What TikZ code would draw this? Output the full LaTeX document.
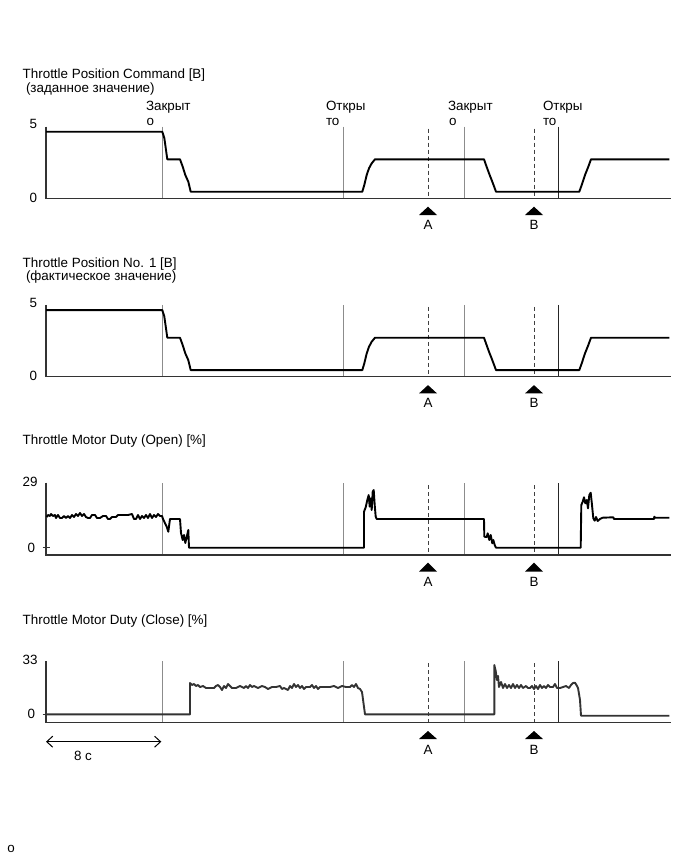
\documentclass[tikz,border=0pt]{standalone}
\usepackage{fontspec}
\setmainfont{Liberation Sans}
\usetikzlibrary{arrows.meta}
\begin{document}
\begin{tikzpicture}[x=1pt,y=-1pt,
  lbl/.style={anchor=base west,inner sep=0pt,outer sep=0pt,font=\fontsize{13.4}{15}\selectfont},
  clbl/.style={anchor=base,inner sep=0pt,outer sep=0pt,font=\fontsize{13.4}{15}\selectfont},
  sig/.style={line width=1.9pt,line join=round,black},
  sigg/.style={line width=1.9pt,line join=round,black!80},
  axisline/.style={line width=1.2pt,black!80},
  vgray/.style={line width=1pt,black!45},
  vdark/.style={line width=1pt,black!85},
  vdash/.style={line width=0.8pt,black!75,dash pattern=on 4pt off 3pt},
  tri/.style={fill=black,draw=none}]
\useasboundingbox[fill=white] (0,0) rectangle (687,859);

% ---------- Panel 1 ----------
\node[lbl] (t1) at (22.7,78) {Throttle Position Command [B]};
\node[lbl] (t1b) at (26,92.7) {(заданное значение)};
\node[lbl] (c1a) at (146,110.5) {Закрыт};
\node[lbl] (c1b) at (146.5,125.5) {о};
\node[lbl] (o1a) at (326,110.5) {Откры};
\node[lbl] (o1b) at (326,125.5) {то};
\node[lbl] (c2a) at (448,110.5) {Закрыт};
\node[lbl] (c2b) at (449,125.5) {о};
\node[lbl] (o2a) at (543,110.5) {Откры};
\node[lbl] (o2b) at (543,125.5) {то};
\node[lbl] (y15) at (29.5,128) {5};
\node[lbl] (y10) at (29.5,202) {0};

\foreach \dy/\top in {0/126.7,178.4/304.9}{
  \begin{scope}[yshift=-\dy pt]
  \draw[vgray] (162.3,\top-\dy) -- (162.3,198.3);
  \draw[vgray] (343,\top-\dy) -- (343,198.3);
  \draw[vgray] (464.3,\top-\dy) -- (464.3,198.3);
  \draw[vdark] (558.3,\top-\dy) -- (558.3,198.3);
  \draw[vdash] (428,\top-\dy+2) -- (428,198.3);
  \draw[vdash] (534,\top-\dy+2) -- (534,198.3);
  \draw[axisline] (46,\top-\dy) -- (46,198.3) -- (671,198.3);
  \draw[sig] (46,131.7) -- (162.3,131.7) -- (164.3,138) -- (166,150) -- (167.3,159.3) -- (180,159.3) -- (182.7,166.7) -- (185.3,175) -- (188.3,181.7) -- (190.7,191.7) -- (362.3,191.7) -- (364.3,185) -- (366.7,175) -- (369,168.3) -- (371.7,163.3) -- (375,159.3) -- (484,159.3) -- (486,165) -- (489,173.3) -- (492.3,181.7) -- (496,191.7) -- (579.3,191.7) -- (581.7,185) -- (585,175) -- (588.3,166.7) -- (591,159.3) -- (669.3,159.3);
  \end{scope}
}

% ---------- Panel 2 labels ----------
\node[lbl] (t2) at (22.7,267.7) {Throttle Position No. 1 [B]};
\node[lbl] (t2b) at (26,280.5) {(фактическое значение)};
\node[lbl] (y25) at (29.5,307.5) {5};
\node[lbl] (y20) at (29.5,380.5) {0};

% ---------- Panel 3 ----------
\node[lbl] (t3) at (22.7,444) {Throttle Motor Duty (Open) [\%]};
\node[lbl] (y329) at (22.7,486) {29};
\node[lbl] (y30) at (27.5,552) {0};
\draw[vgray] (162.3,483) -- (162.3,555);
\draw[vgray] (343,483) -- (343,555);
\draw[vgray] (464.3,483) -- (464.3,555);
\draw[vdark] (558.3,483) -- (558.3,555);
\draw[vdash] (428,485) -- (428,555);
\draw[vdash] (534,485) -- (534,555);
\draw[axisline] (46,482.7) -- (46,555) -- (671,555);
\draw[axisline] (42.7,547.7) -- (50,547.7);
\draw[sig] (46.7,517) -- (48,515) -- (50,516) -- (51,514) -- (53,516) -- (55,515) -- (56,518) -- (58,515) -- (60,518) -- (62,518) -- (64,516) -- (66,518) -- (68,516) -- (70,518) -- (72,515) -- (74,517) -- (76,514) -- (78,516) -- (80,513) -- (82,516) -- (84,514) -- (86,517) -- (88,518) -- (90,518) -- (92,515) -- (95,515) -- (97,518) -- (100,518) -- (103,516) -- (106,516) -- (108,519) -- (110,519) -- (112,517) -- (116,517) -- (118,515) -- (124,515) -- (128,515) -- (132,514) -- (134,519) -- (136,519) -- (138,515) -- (140,519) -- (142,516) -- (144,518) -- (146,515) -- (148,518) -- (150,514) -- (152,518) -- (154,515) -- (156,517) -- (158,514) -- (160,516) -- (162,516)
  -- (163,519) -- (166.7,526.7) -- (168.3,531.7) -- (170,519) -- (180,519) -- (181,533) -- (182.7,540) -- (184,535) -- (185.3,543) -- (186.7,537) -- (188.3,530) -- (189,547.7) -- (364,547.7)
  -- (364,511.7) -- (365.7,507.3) -- (367.3,500) -- (368.7,495) -- (369.7,506.7) -- (370.7,498.3) -- (371.7,510) -- (372.7,491.7) -- (373.7,490) -- (374.7,505) -- (375.7,516.7) -- (376.7,519) -- (484,519)
  -- (484.3,536.7) -- (486.7,537) -- (487.7,533.3) -- (489.3,540) -- (490.7,535) -- (492.3,543.3) -- (493.3,540) -- (494.7,545) -- (496,547.7) -- (580.7,547.7)
  -- (581.3,505) -- (582.7,501.7) -- (584,497.3) -- (585.3,503.3) -- (586.7,500) -- (588,508.3) -- (589.3,495) -- (590.7,492.7) -- (592,505) -- (593.3,518.3) -- (594.7,520.7) -- (596,517) -- (597.7,521) -- (600,519) -- (602.7,517.7) -- (613.3,517.3) -- (614,519) -- (654,519) -- (654.3,516.7) -- (655.3,517.7) -- (669.3,517.7);
\foreach \xx in {428,534}{
  \fill[tri] (\xx,562.7) -- (\xx+9,571.7) -- (\xx-9,571.7) -- cycle;
}
\node[clbl] (a3) at (428,586) {A};
\node[clbl] (b3) at (534,586) {B};

% ---------- Triangles panels 1,2 ----------
\foreach \yy in {198.3,376.7}{
  \fill[tri] (428,\yy+8.4) -- (437,\yy+16.7) -- (419,\yy+16.7) -- cycle;
  \fill[tri] (534,\yy+8.4) -- (543,\yy+16.7) -- (525,\yy+16.7) -- cycle;
}
\node[clbl] (a1) at (428,229) {A};
\node[clbl] (b1) at (534,229) {B};
\node[clbl] (a2) at (428,407.5) {A};
\node[clbl] (b2) at (534,407.5) {B};

% ---------- Panel 4 ----------
\node[lbl] (t4) at (22.7,624) {Throttle Motor Duty (Close) [\%]};
\node[lbl] (y433) at (22.7,664.5) {33};
\node[lbl] (y40) at (27.5,718) {0};
\draw[vgray] (162.3,661) -- (162.3,722.7);
\draw[vgray] (343,661) -- (343,722.7);
\draw[vgray] (464.3,661) -- (464.3,722.7);
\draw[vdark] (558.3,661) -- (558.3,722.7);
\draw[vdash] (428,663) -- (428,722.7);
\draw[vdash] (534,663) -- (534,722.7);
\draw[axisline] (46,661) -- (46,722.7) -- (671,722.7);
\draw[axisline] (42.7,714.3) -- (50,714.3);
\draw[sigg] (46,714.3) -- (190,714.3) -- (190,683) -- (192,685) -- (194,684) -- (196,686) -- (198,685) -- (200,687) -- (203,686) -- (206,688) -- (210,688) -- (214,688) -- (216,686) -- (218,685) -- (220,687) -- (222,690) -- (224,686) -- (226,688) -- (228,684) -- (230,686) -- (232,688) -- (236,688) -- (240,686) -- (244,688) -- (246,686) -- (248,688) -- (250,685) -- (252,687) -- (254,686) -- (258,688) -- (262,686) -- (265,687) -- (268,689) -- (272,687) -- (276,687) -- (280,686) -- (282,689) -- (284,688) -- (288,690) -- (290,686) -- (292,688) -- (294,684) -- (296,687) -- (298,685) -- (300,688) -- (302,686) -- (304,689) -- (306,687) -- (310,687) -- (312,685) -- (314,688) -- (316,686) -- (318,689) -- (320,687) -- (324,687) -- (330,687) -- (334,686) -- (338,688) -- (342,686) -- (346,687) -- (350,687) -- (352,685) -- (354,687) -- (356,684) -- (358,688) -- (360,689) -- (362,692) -- (365,714.3)
  -- (494.3,714.3) -- (494.3,665) -- (495.7,671) -- (497,680) -- (498,676) -- (499,687) -- (501,682) -- (503,688) -- (505,684) -- (507,688) -- (509,685) -- (511,688) -- (513,684) -- (515,688) -- (517,685) -- (519,688) -- (521,685) -- (523,688) -- (526,686) -- (528,688) -- (530,688) -- (532,686) -- (534,689) -- (536,686) -- (538,689) -- (540,685) -- (542,688) -- (544,686) -- (546,688) -- (548,685) -- (550,687) -- (553,687) -- (555,684) -- (557,688) -- (560,688) -- (563,687) -- (566,686) -- (569,688) -- (571,685) -- (573,683) -- (575,682.7) -- (577,686) -- (578,688) -- (580,700) -- (581,715.7) -- (669.3,715.7);
\fill[tri] (428,731) -- (437,739) -- (419,739) -- cycle;
\fill[tri] (534,731) -- (543,739) -- (525,739) -- cycle;
\node[clbl] (a4) at (428,754) {A};
\node[clbl] (b4) at (534,754) {B};

% time scale
\coordinate (s0) at (46,741.7);
\coordinate (s1) at (161.3,741.7);
\draw[line width=1pt,{Straight Barb[length=6pt,width=11pt]}-{Straight Barb[length=6pt,width=11pt]}] (s0) -- (s1);
\node[lbl] (sc) at (74,760) {8 с};

% stray letter
\node[lbl] (stray) at (7.3,852) {о};
\end{tikzpicture}
\end{document}
